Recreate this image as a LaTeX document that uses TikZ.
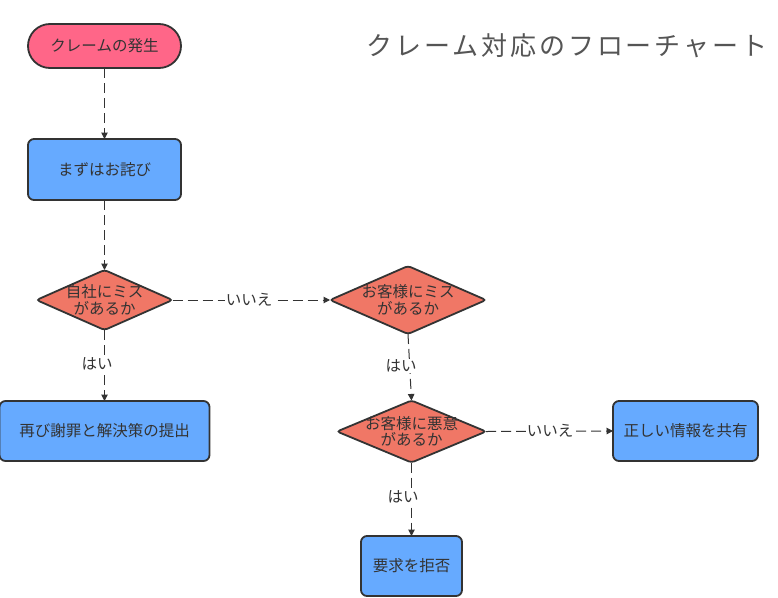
\documentclass[tikz,border=0pt]{standalone}
\usepackage{fontspec}
\setmainfont{Noto Sans CJK JP}
\newfontfamily\titlefont[LetterSpace=11]{Noto Sans CJK JP}
\usetikzlibrary{shapes.geometric,arrows.meta}
\definecolor{bordc}{HTML}{333333}
\definecolor{txtc}{HTML}{333333}
\definecolor{boxblue}{HTML}{66AAFF}
\definecolor{startpink}{HTML}{FF6688}
\definecolor{diac}{HTML}{F07766}
\definecolor{titlec}{HTML}{555555}
\begin{document}
\begin{tikzpicture}[x=1pt,y=-1pt,
  every node/.style={font=\fontsize{15.5pt}{17pt}\selectfont, text=txtc},
  boxnode/.style={draw=bordc, line width=1.8pt, fill=boxblue, rounded corners=6pt, inner sep=0pt, outer sep=0pt},
  startnode/.style={draw=bordc, line width=1.8pt, fill=startpink, rounded corners=22pt, inner sep=0pt, outer sep=0pt, minimum width=153pt, minimum height=44pt},
  dianode/.style={diamond, draw=bordc, line width=1.8pt, fill=diac, rounded corners=3pt, inner sep=0pt, outer sep=0pt},
  diatext/.style={align=center, inner sep=0pt, font=\fontsize{15.5pt}{16.5pt}\selectfont},
  conn/.style={draw=bordc, line width=1pt, dash pattern=on 10pt off 5pt, -{Triangle[width=6.5pt,length=6.5pt]}},
  lab/.style={fill=white, inner sep=0.5pt}
]
\useasboundingbox (0,0) rectangle (778,597);
\fill[white] (0,0) rectangle (778,597);

\node[font=\titlefont\fontsize{26pt}{28pt}\selectfont, text=titlec] (title) at (567,46) {クレーム対応のフローチャート};

\node[startnode] (start) at (104.5,46) {クレームの発生};
\node[boxnode, minimum width=153pt, minimum height=61pt] (apology) at (104.5,169.5) {まずはお詫び};

\node[dianode, minimum width=136pt, minimum height=60pt] (d1) at (104.5,300) {};
\node[diatext] at (d1) {自社にミス\\があるか};

\node[dianode, minimum width=156pt, minimum height=68pt] (d2) at (408,300) {};
\node[diatext] at (d2) {お客様にミス\\があるか};

\node[dianode, minimum width=149pt, minimum height=62pt] (d3) at (411.5,431.5) {};
\node[diatext] at (d3) {お客様に悪意\\があるか};

\node[boxnode, minimum width=210pt, minimum height=60pt] (again) at (104.5,431) {再び謝罪と解決策の提出};
\node[boxnode, minimum width=145pt, minimum height=60pt] (share) at (685.5,431) {正しい情報を共有};
\node[boxnode, minimum width=101pt, minimum height=60pt] (reject) at (411.5,566) {要求を拒否};

\draw[conn] (start) -- (apology);
\draw[conn] (apology) -- (d1);
\draw[conn] (d1.south) -- (again);
\draw[conn] (d1.east) -- (d2.west);
\draw[conn] (d2.south) -- (d3.north);
\draw[conn] (d3.east) -- (share.west);
\draw[conn] (d3.south) -- (reject.north);

\node[lab] (l1) at (97,364) {はい};
\node[lab] (l2) at (249,300) {いいえ};
\node[lab] (l3) at (401,366) {はい};
\node[lab] (l4) at (550,431) {いいえ};
\node[lab] (l5) at (403,497) {はい};
\end{tikzpicture}
\end{document}
